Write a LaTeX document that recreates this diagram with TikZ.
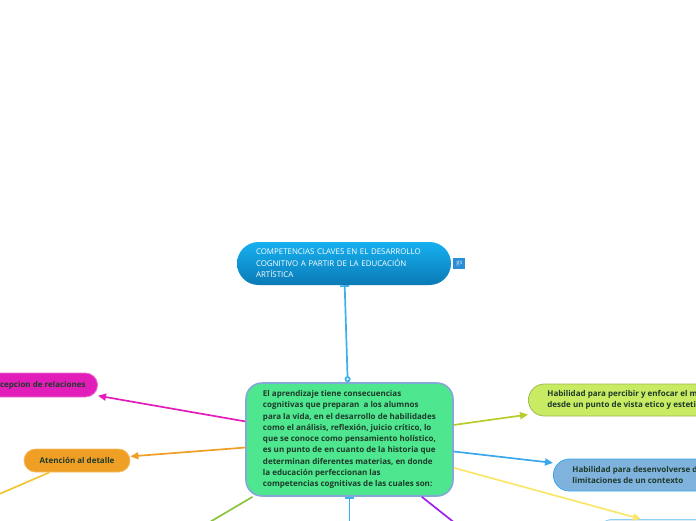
\documentclass[tikz,border=0pt]{standalone}
\usepackage{fontspec}
\setmainfont{Open Sans}
\usepackage{tikz}
\usetikzlibrary{arrows.meta, positioning, calc}
\definecolor{topcyan}{HTML}{16B0F0}
\definecolor{topdeep}{HTML}{0A7AB6}
\definecolor{gsblue}{HTML}{2A8ED6}
\definecolor{linkblue}{HTML}{3BB0EA}
\definecolor{ctrgreen}{HTML}{4EE68E}
\definecolor{ctrline}{HTML}{84A8D8}
\definecolor{txtdark}{HTML}{1E3A2A}
\definecolor{magent}{HTML}{E21DB9}
\definecolor{orng}{HTML}{F09F25}
\definecolor{ylw}{HTML}{F2C535}
\definecolor{lime}{HTML}{C9EA63}
\definecolor{limeline}{HTML}{B8CC2A}
\definecolor{skyfill}{HTML}{7FB2DC}
\definecolor{skyline}{HTML}{3AA8EC}
\definecolor{paleylw}{HTML}{FBE66A}
\definecolor{grass}{HTML}{8DC43F}
\definecolor{purp}{HTML}{A020F0}

\begin{document}
\begin{tikzpicture}[
  x=1pt, y=-1pt,
  pill/.style={rectangle, rounded corners=11.5pt, minimum height=23pt, line width=0.8pt,
    font=\bfseries\fontsize{8}{11.2}\selectfont, text=txtdark, align=left, inner xsep=12pt},
  toptopic/.style={rectangle, rounded corners=21.5pt, minimum width=214pt, minimum height=43pt,
    top color=topcyan, bottom color=topdeep, text=white, align=left, inner sep=0pt,
    text width=176pt, font=\fontsize{7.9}{11.5}\selectfont},
  ctrbox/.style={rectangle, rounded corners=16pt, draw=ctrline, line width=1.6pt, fill=ctrgreen,
    minimum width=207pt, minimum height=113pt, align=left, inner sep=0pt, text=txtdark,
    font=\bfseries\fontsize{8}{11.25}\selectfont},
  arr/.style={-{Triangle[length=8pt, width=7pt]}, line width=1.7pt},
  link/.style={line width=1.7pt, linkblue},
]
  \useasboundingbox (0,0) rectangle (696,520);
  \clip (0,0) rectangle (696,520);

  \node[toptopic] (comp) at (344,263.5) {COMPETENCIAS CLAVES EN EL DESARROLLO\\COGNITIVO A PARTIR DE LA EDUCACIÓN\\ARTÍSTICA};
  \node[rectangle, fill=gsblue, minimum width=12pt, minimum height=11pt, inner sep=0pt,
    text=white!80!gsblue, font=\fontsize{6}{6}\selectfont, right=2pt of comp] (gs) {gs};

  \node[ctrbox] (ctr) at (349.5,439.5) {El aprendizaje tiene consecuencias\\
    cognitivas que preparan\ \ a los alumnos\\
    para la vida, en el desarrollo de habilidades\\
    como el análisis, reflexión, juicio crítico, lo\\
    que se conoce como pensamiento holístico,\\
    es un punto de en cuanto de la historia que\\
    determinan diferentes materias, en donde\\
    la educación perfeccionan las\\
    competencias cognitivas de las cuales son:};

  \node[pill, fill=magent, draw=magent!60!white, anchor=east, minimum height=24pt, rounded corners=12pt] (perc) at (98,385) {Percepcion de relaciones};
  \node[pill, fill=orng, draw=orng!70!white, minimum width=106pt] (aten) at (77,460.5) {Atención al detalle};
  \node[pill, fill=lime, draw=lime!80!black, anchor=west, minimum height=32pt, rounded corners=16pt, inner xsep=19pt] (hab1) at (528,400)
    {Habilidad para percibir y enfocar el mundo\\desde un punto de vista etico y estetico};
  \node[pill, fill=skyfill, draw=skyline, anchor=west, minimum height=32pt, rounded corners=16pt, inner xsep=19pt] (hab2) at (553,475)
    {Habilidad para desenvolverse dentro de las\\limitaciones de un contexto};
  \node[pill, fill=skyfill!25!white, draw=linkblue!60!white, anchor=north west, minimum width=200pt, minimum height=30pt, rounded corners=15pt] (hab3) at (597,519) {};

  \coordinate (offbl) at (110,581);
  \coordinate (offbm) at (349.5,600);
  \coordinate (offbr) at (528,581);
  \coordinate (offll) at (-40,511);

  % ramas
  \draw[link, {Bar[width=9pt]}-{Circle[open, length=6pt]}] (comp) -- (ctr);
  \draw[link, {Bar[width=9pt]}-] (ctr) -- (offbm);
  \draw[arr, magent] (ctr) -- (perc);
  \draw[arr, orng] (ctr) -- (aten);
  \draw[arr, limeline] (ctr) -- (hab1);
  \draw[arr, skyline] (ctr) -- (hab2);
  \draw[arr, paleylw] (ctr) -- (hab3);
  \draw[line width=1.7pt, grass] (ctr) -- (offbl);
  \draw[line width=1.7pt, purp] (ctr) -- (offbr);
  \draw[line width=1.7pt, ylw] (aten) -- (offll);
\end{tikzpicture}
\end{document}
